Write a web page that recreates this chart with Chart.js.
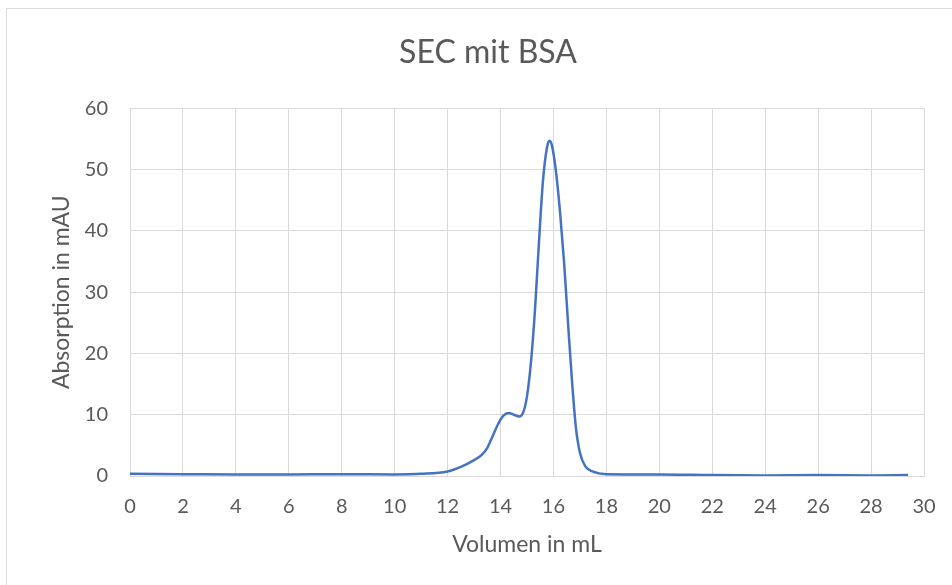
<!DOCTYPE html>
<html>
<head>
<meta charset="utf-8">
<script src="https://cdn.jsdelivr.net/npm/chart.js@4"></script>
<style>
  html, body { margin: 0; padding: 0; background: #fff; overflow: hidden; }
  #frame { position: absolute; left: 6px; top: 8px; width: 1000px; height: 700px; border: 1px solid #d9d9d9; }
  #wrap { position: absolute; left: 0; top: 0; width: 952px; height: 585px; }
</style>
</head>
<body>
<div id="frame"></div>
<div id="wrap"><canvas id="chart" width="952" height="585"></canvas></div>
<script>
// volume (mL) and absorption (mAU)
const volumes = [0, 2, 4, 6, 8, 10, 11, 12, 12.5, 13, 13.3, 13.5, 13.7, 13.9, 14.1, 14.3, 14.5, 14.7, 14.85,
  15.0, 15.15, 15.3, 15.45, 15.6, 15.75, 15.85, 15.95, 16.1, 16.25, 16.4, 16.55, 16.7, 16.85, 17.0, 17.2, 17.5,
  18, 20, 22, 24, 26, 28, 29.4];
const absorption = [0.35, 0.3, 0.25, 0.25, 0.3, 0.25, 0.35, 0.75, 1.5, 2.6, 3.5, 4.6, 6.5, 8.4, 9.8, 10.3, 10.0, 9.7, 10.3,
  13.0, 18.6, 27, 38, 48, 53.5, 54.7, 53.8, 49.5, 43, 34.9, 25, 15.5, 7.8, 3.8, 1.6, 0.7,
  0.3, 0.25, 0.15, 0.1, 0.15, 0.1, 0.15];

const textColor = '#595959';
const gridColor = '#d9d9d9';

window.onload = function(){
  const points = volumes.map((v, i) => ({x: v, y: absorption[i]}));

  const config = {
    type: 'line',
    data: {
      datasets: [{
        label: 'BSA',
        data: points,
        borderColor: '#4472C4',
        borderWidth: 2.5,
        pointRadius: 0,
        cubicInterpolationMode: 'monotone',
        fill: false
      }]
    },
    options: {
      responsive: false,
      animation: false,
      layout: {padding: {left: 24, right: 0, top: 0, bottom: 0}},
      plugins: {
        legend: {display: false},
        tooltip: {enabled: false},
        title: {
          display: true,
          text: 'SEC mit BSA',
          color: textColor,
          font: {family: 'Lato', size: 32, weight: 'normal'},
          padding: {top: 33, bottom: 37}
        }
      },
      scales: {
        x: {
          type: 'linear',
          min: 0, max: 30,
          ticks: {stepSize: 2, color: textColor, font: {family: 'Lato', size: 20}, padding: 19, maxRotation: 0},
          grid: {color: gridColor, drawTicks: false},
          border: {color: gridColor},
          title: {display: true, text: 'Volumen in mL', color: textColor, font: {family: 'Lato', size: 23}, padding: {top: 0, bottom: 27}},
          afterFit: function(scale){ scale.height = 109; scale.paddingRight = 28; }
        },
        y: {
          min: 0, max: 60,
          ticks: {stepSize: 10, color: textColor, font: {family: 'Lato', size: 20}, padding: 22},
          grid: {color: gridColor, drawTicks: false},
          border: {display: false},
          title: {display: true, text: 'Absorption in mAU', color: textColor, font: {family: 'Lato', size: 23}, padding: {top: 24, bottom: 0}},
          afterFit: function(scale){ scale.width = 106; }
        }
      }
    }
  };

  new Chart(document.getElementById('chart').getContext('2d'), config);
};
</script>
</body>
</html>
